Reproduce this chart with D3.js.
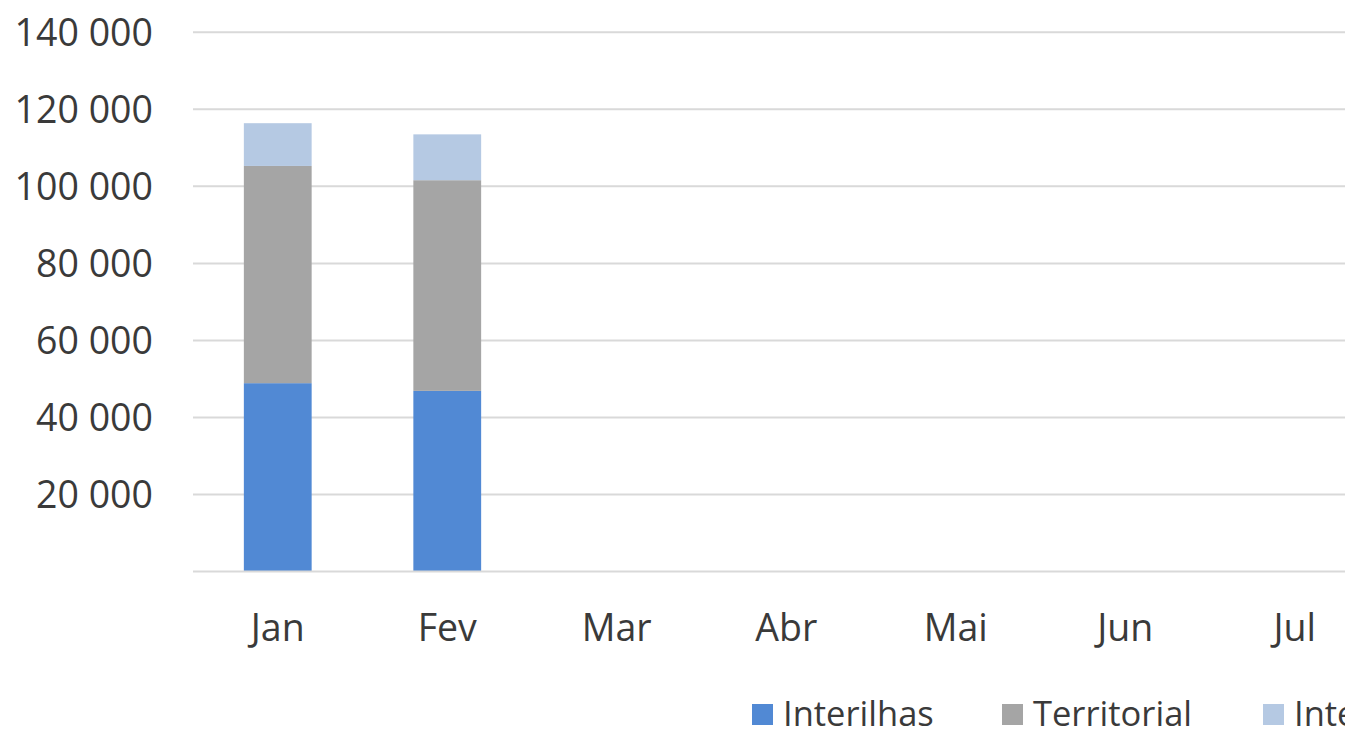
<!DOCTYPE html>
<html><head><meta charset="utf-8">
<script src="https://cdn.jsdelivr.net/npm/d3@7"></script>
<style>html,body{margin:0;padding:0;background:#fff;overflow:hidden}</style>
</head><body>
<svg id="c" width="1345" height="731"></svg>
<script>
const months = ["Jan","Fev","Mar","Abr","Mai","Jun","Jul"];
const seriesNames = ["Interilhas","Territorial","Internacional"];
const interilhas = [48900, 46900, null, null, null, null, null];
const territorial = [56400, 54700, null, null, null, null, null];
const internacional = [11100, 11900, null, null, null, null, null];
const yTicks = [20000, 40000, 60000, 80000, 100000, 120000, 140000];
const colors = ["#5189d4", "#a5a5a5", "#b5c9e3"];

const svg = d3.select("#c");
const plotLeft = 193, plotTop = 32.3, plotBottom = 571.5, step = 169.5;
const x = d3.scaleBand().domain(months).range([plotLeft, plotLeft + step * months.length]).paddingInner(0.6).paddingOuter(0.3);
const y = d3.scaleLinear().domain([0, 140000]).range([plotBottom, plotTop]);

const rows = months.map((m, i) => ({month: m, Interilhas: interilhas[i] || 0, Territorial: territorial[i] || 0, Internacional: internacional[i] || 0}));
const stacked = d3.stack().keys(seriesNames)(rows);

// gridlines
svg.append("g").selectAll("line").data(yTicks).join("line")
  .attr("x1", plotLeft).attr("x2", 1345).attr("y1", d => y(d)).attr("y2", d => y(d))
  .attr("stroke", "#d9d9d9").attr("stroke-width", 2);

// bars
svg.append("g").selectAll("g").data(stacked).join("g")
  .attr("fill", (d, i) => colors[i])
  .selectAll("rect").data(d => d.filter(p => p[1] > p[0])).join("rect")
  .attr("x", d => x(d.data.month)).attr("width", x.bandwidth())
  .attr("y", d => y(d[1])).attr("height", d => y(d[0]) - y(d[1]));

// baseline axis
svg.append("line").attr("x1", plotLeft).attr("x2", 1345).attr("y1", y(0)).attr("y2", y(0))
  .attr("stroke", "#d9d9d9").attr("stroke-width", 2);

const fmt = v => d3.format(",")(v).replace(/,/g, " ");
// y labels
svg.append("g").selectAll("text").data(yTicks).join("text")
  .attr("x", 153).attr("y", d => y(d)).attr("dy", "0.36em")
  .attr("text-anchor", "end").attr("font-family", "Open Sans").attr("font-size", 37.5)
  .attr("fill", "#3a3a3a").text(d => fmt(d));

// x labels
svg.append("g").selectAll("text").data(months).join("text")
  .attr("x", d => x(d) + x.bandwidth() / 2).attr("y", 641)
  .attr("text-anchor", "middle").attr("font-family", "Open Sans").attr("font-size", 37.5)
  .attr("fill", "#3a3a3a").text(d => d);

// legend
const legX = [752, 1002, 1263];
const lg = svg.append("g").selectAll("g").data(seriesNames).join("g")
  .attr("transform", (d, i) => `translate(${legX[i]},0)`);
lg.append("rect").attr("x", 0).attr("y", 704).attr("width", 21).attr("height", 21).attr("fill", (d, i) => colors[i]);
lg.append("text").attr("x", 31).attr("y", 726).attr("font-family", "Open Sans").attr("font-size", 34.5)
  .attr("fill", "#3a3a3a").text(d => d);
</script>
</body></html>
